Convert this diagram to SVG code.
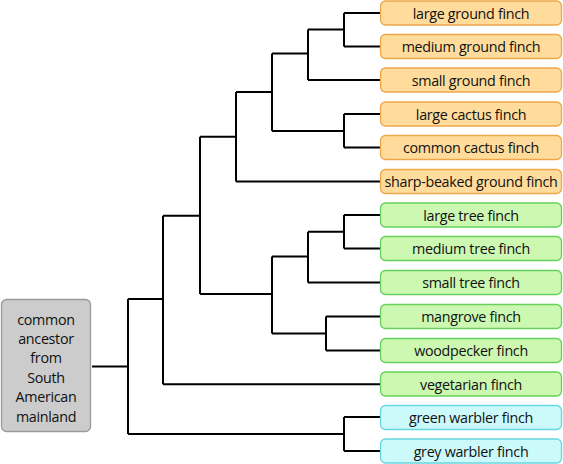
<svg xmlns="http://www.w3.org/2000/svg" width="563" height="464" viewBox="0 0 563 464">
<style>
.box{stroke-width:1.3}
.o{fill:#ffdc9c;stroke:#eea64a}
.g{fill:#ccf8b2;stroke:#66d05a}
.c{fill:#ccfafa;stroke:#66d6e0}
.a{fill:#cccccc;stroke:#9a9a9a}
text{font-family:"Open Sans","Liberation Sans",sans-serif;font-size:14.3px;letter-spacing:-0.3px;fill:#111;text-anchor:middle;dominant-baseline:central}
.lines path{fill:none;stroke:#000;stroke-width:2}
</style>
<g class="lines" id="connectors">
<path d="M92 366.5H128M128 299V434M128 299H163M128 434H344M344 417V451M344 417H380M344 451H380"/>
<path d="M163 215.7V384.3M163 215.7H200M163 384.3H380"/>
<path d="M200 136.7V294M200 136.7H236M200 294H272"/>
<path d="M236 92V181.5M236 92H272M236 181.5H380"/>
<path d="M272 53.5V131M272 53.5H308M272 131H344M344 114V147.5M344 114H380M344 147.5H380"/>
<path d="M308 29.5V80M308 29.5H344M308 80H380M344 13V46.5M344 13H380M344 46.5H380"/>
<path d="M272 256.5V333.5M272 256.5H308M272 333.5H326M326 316.5V350.5M326 316.5H380M326 350.5H380"/>
<path d="M308 231.7V282.5M308 231.7H344M308 282.5H380M344 215V248.5M344 215H380M344 248.5H380"/>
</g>
<g id="ancestor"><rect class="box a" x="1.5" y="299.5" width="89" height="132" rx="5"/>
<text x="46" y="319">common</text><text x="46" y="338.5">ancestor</text><text x="46" y="357.5">from</text><text x="46" y="377">South</text><text x="46" y="396.5">American</text><text x="46" y="416">mainland</text></g>
<g id="n1"><rect class="box o" x="380.5" y="1" width="181" height="24" rx="5"/><text x="471" y="13">large ground finch</text></g>
<g id="n2"><rect class="box o" x="380.5" y="34.5" width="181" height="24" rx="5"/><text x="471" y="46.5">medium ground finch</text></g>
<g id="n3"><rect class="box o" x="380.5" y="68" width="181" height="24" rx="5"/><text x="471" y="80">small ground finch</text></g>
<g id="n4"><rect class="box o" x="380.5" y="102" width="181" height="24" rx="5"/><text x="471" y="114">large cactus finch</text></g>
<g id="n5"><rect class="box o" x="380.5" y="135.5" width="181" height="24" rx="5"/><text x="471" y="147.5">common cactus finch</text></g>
<g id="n6"><rect class="box o" x="380.5" y="169.5" width="181" height="24" rx="5"/><text x="471" y="181.5">sharp-beaked ground finch</text></g>
<g id="n7"><rect class="box g" x="380.5" y="203" width="181" height="24" rx="5"/><text x="471" y="215">large tree finch</text></g>
<g id="n8"><rect class="box g" x="380.5" y="236.5" width="181" height="24" rx="5"/><text x="471" y="248.5">medium tree finch</text></g>
<g id="n9"><rect class="box g" x="380.5" y="270.5" width="181" height="24" rx="5"/><text x="471" y="282.5">small tree finch</text></g>
<g id="n10"><rect class="box g" x="380.5" y="304.5" width="181" height="24" rx="5"/><text x="471" y="316.5">mangrove finch</text></g>
<g id="n11"><rect class="box g" x="380.5" y="338.5" width="181" height="24" rx="5"/><text x="471" y="350.5">woodpecker finch</text></g>
<g id="n12"><rect class="box g" x="380.5" y="372" width="181" height="24" rx="5"/><text x="471" y="384">vegetarian finch</text></g>
<g id="n13"><rect class="box c" x="380.5" y="405.5" width="181" height="24" rx="5"/><text x="471" y="417.5">green warbler finch</text></g>
<g id="n14"><rect class="box c" x="380.5" y="439" width="181" height="24" rx="5"/><text x="471" y="451">grey warbler finch</text></g>
</svg>
